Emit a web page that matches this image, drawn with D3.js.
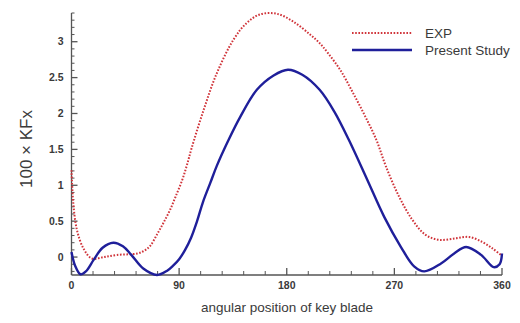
<!DOCTYPE html>
<html>
<head>
<meta charset="utf-8">
<script src="https://cdn.jsdelivr.net/npm/d3@7"></script>
<style>
  html, body { margin: 0; padding: 0; background: #fff; }
  svg { display: block; font-family: "Liberation Sans", Arial, sans-serif; }
</style>
</head>
<body>
<svg id="chart" width="520" height="323"></svg>
<script>
// Angular position of key blade (degrees) and measured / computed force coefficient
const expAngle = [0, 1.5, 4.5, 10, 17, 27, 38, 55, 61, 66, 72, 77, 82.5, 87, 92.5, 96.5, 100.5, 110.5, 121.5, 135.5, 146.5, 157.5, 171.5, 185.5, 199.5, 207.5, 215, 225, 235, 245, 255, 263, 274, 285, 296, 307.5, 321, 332.5, 343.5, 352, 359];
const expValue = [1.21, 0.75, 0.38, 0.12, -0.02, 0.0, 0.03, 0.05, 0.09, 0.16, 0.33, 0.48, 0.66, 0.84, 1.07, 1.28, 1.52, 2.05, 2.56, 3.03, 3.26, 3.38, 3.39, 3.28, 3.10, 2.98, 2.83, 2.6, 2.3, 1.98, 1.63, 1.26, 0.84, 0.52, 0.31, 0.24, 0.26, 0.28, 0.21, 0.12, 0.03];

const simAngle = [0, 3, 7.5, 12, 18.5, 26, 35, 43, 50, 60, 71.5, 80, 85, 90, 95, 100, 105, 110, 116, 121.5, 131, 141, 155, 169, 181, 193, 207.5, 220, 232, 247.5, 261.5, 275.5, 286.5, 295, 309, 320, 330, 342.5, 353, 358, 360];
const simValue = [0.07, -0.12, -0.24, -0.2, -0.04, 0.13, 0.20, 0.15, 0.03, -0.16, -0.25, -0.19, -0.12, -0.03, 0.1, 0.27, 0.5, 0.77, 1.03, 1.27, 1.62, 1.95, 2.33, 2.53, 2.61, 2.54, 2.33, 2.02, 1.63, 1.07, 0.56, 0.14, -0.13, -0.2, -0.09, 0.05, 0.14, 0.03, -0.14, -0.1, 0.05];

const xTicks = [0, 90, 180, 270, 360];
const yTicks = [0, 0.5, 1, 1.5, 2, 2.5, 3];
const yTickLabels = ["0", "0.5", "1", "1.5", "2", "2.5", "3"];
const seriesNames = ["EXP", "Present Study"];

const svg = d3.select("#chart");
const plotLeft = 71.5, plotRight = 502, plotTop = 13, plotBottom = 275;

const x = d3.scaleLinear().domain([0, 360]).range([plotLeft, plotRight]);
const y = d3.scaleLinear().domain([-0.25, 3.4]).range([plotBottom, plotTop]);

const axisColor = "#555";
const labelColor = "#3a3a3a";

// Bottom axis: major ticks every 90 deg, minor every 18 deg, pointing inward
const xMinor = d3.range(0, 361, 18).filter(d => !xTicks.includes(d));
const gx = svg.append("g").attr("transform", `translate(0,${plotBottom})`);
gx.append("line").attr("x1", x(0)).attr("x2", x(360)).attr("stroke", axisColor).attr("stroke-width", 1.3);
gx.selectAll(".minor").data(xMinor).join("line")
  .attr("x1", d => x(d)).attr("x2", d => x(d)).attr("y1", 0).attr("y2", -4)
  .attr("stroke", axisColor).attr("stroke-width", 1);
gx.selectAll(".major").data(xTicks).join("line")
  .attr("x1", d => x(d)).attr("x2", d => x(d)).attr("y1", 0).attr("y2", -7)
  .attr("stroke", axisColor).attr("stroke-width", 1.3);
gx.selectAll("text").data(xTicks).join("text")
  .attr("x", d => x(d)).attr("y", 14)
  .attr("text-anchor", "middle")
  .attr("font-size", 10.5).attr("font-weight", "bold").attr("fill", labelColor)
  .text(d => d);

// Left axis: major ticks every 0.5, minor every 0.1, pointing inward
const yMinor = d3.range(-2, 35).map(d => d / 10).filter(d => !yTicks.some(t => Math.abs(t - d) < 1e-9));
const gy = svg.append("g").attr("transform", `translate(${plotLeft},0)`);
gy.append("line").attr("y1", plotTop).attr("y2", plotBottom).attr("stroke", axisColor).attr("stroke-width", 1.3);
gy.selectAll(".minor").data(yMinor).join("line")
  .attr("y1", d => y(d)).attr("y2", d => y(d)).attr("x1", 0).attr("x2", 3)
  .attr("stroke", axisColor).attr("stroke-width", 1);
gy.selectAll(".major").data(yTicks).join("line")
  .attr("y1", d => y(d)).attr("y2", d => y(d)).attr("x1", 0).attr("x2", 6)
  .attr("stroke", axisColor).attr("stroke-width", 1.3);
gy.selectAll("text").data(yTicks).join("text")
  .attr("x", -8).attr("y", d => y(d)).attr("dy", "0.35em")
  .attr("text-anchor", "end")
  .attr("font-size", 10.5).attr("font-weight", "bold").attr("fill", labelColor)
  .text((d, i) => yTickLabels[i]);

// Axis titles
svg.append("text")
  .attr("x", 287).attr("y", 312)
  .attr("text-anchor", "middle").attr("font-size", 13.5).attr("fill", labelColor)
  .text("angular position of key blade");
svg.append("text")
  .attr("transform", "translate(32,149) rotate(-90)")
  .attr("text-anchor", "middle").attr("font-size", 17).attr("fill", labelColor)
  .text("100 × KFx");

// Curves
const line = d3.line().x(d => x(d[0])).y(d => y(d[1])).curve(d3.curveCatmullRom.alpha(0.5));
const expData = expAngle.map((a, i) => [a, expValue[i]]);
const simData = simAngle.map((a, i) => [a, simValue[i]]);

const expColor = "#d0343a";
const simColor = "#1f1f9a";

svg.append("path").datum(expData).attr("d", line)
  .attr("fill", "none").attr("stroke", expColor).attr("stroke-width", 2)
  .attr("stroke-dasharray", "1.6,1.6");
svg.append("path").datum(simData).attr("d", line)
  .attr("fill", "none").attr("stroke", simColor).attr("stroke-width", 2.4);

// Legend
const legend = svg.append("g");
const legendY = [33, 50];
legend.append("line").attr("x1", 352).attr("x2", 412).attr("y1", legendY[0]).attr("y2", legendY[0])
  .attr("stroke", expColor).attr("stroke-width", 2).attr("stroke-dasharray", "1.6,1.6");
legend.append("line").attr("x1", 352).attr("x2", 412).attr("y1", legendY[1]).attr("y2", legendY[1])
  .attr("stroke", simColor).attr("stroke-width", 2.4);
legend.selectAll("text").data(seriesNames).join("text")
  .attr("x", 425).attr("y", (d, i) => legendY[i]).attr("dy", "0.35em")
  .attr("font-size", 13.5).attr("fill", labelColor)
  .text(d => d);
</script>
</body>
</html>
